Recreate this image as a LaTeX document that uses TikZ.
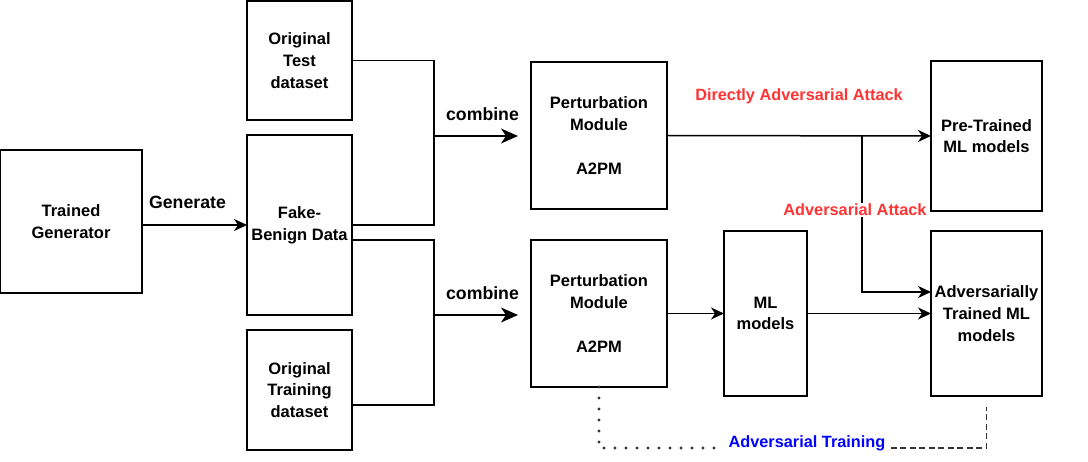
\documentclass[tikz,border=0pt]{standalone}
\usepackage{fontspec}
\setmainfont{Liberation Sans}
\usetikzlibrary{arrows.meta,positioning}
\definecolor{attackred}{HTML}{FF3333}
\definecolor{trainblue}{HTML}{0000FF}
\definecolor{dotgray}{HTML}{333333}
\tikzset{
  block/.style={draw=black,line width=1.5pt,inner sep=0pt,outer sep=0pt,align=center,
    font=\bfseries\fontsize{16.5}{21.7}\selectfont,fill=white},
  flow/.style={-{Stealth[length=13pt,width=12pt,inset=4pt]},line width=1.5pt,draw=black},
  bigflow/.style={-{Stealth[length=17pt,width=15pt,inset=5pt]},line width=1.5pt,draw=black},
  merge/.style={line width=1.5pt,draw=black},
  edgelbl/.style={font=\bfseries\fontsize{17.7}{21}\selectfont,inner sep=0pt},
  redlbl/.style={font=\bfseries\fontsize{16.3}{20}\selectfont,text=attackred},
  bluelbl/.style={font=\bfseries\fontsize{16.3}{20}\selectfont,text=trainblue,inner xsep=5pt,inner ysep=0pt},
  dotline/.style={draw=dotgray,line width=3.4pt,line cap=round,dash pattern=on 0pt off 11pt},
  dashline/.style={draw=dotgray,line width=1.2pt,dash pattern=on 6pt off 3.5pt}
}

\begin{document}
\begin{tikzpicture}[x=1pt,y=-1pt]
  \useasboundingbox (0,0) rectangle (1088,462);
  \node[block,minimum width=142pt,minimum height=143pt] (gen) at (71,221.5) {Trained\\Generator};
  \node[block,minimum width=105pt,minimum height=180pt] (fake) at (299.5,225) {Fake-\\Benign Data};
  \node[block,minimum width=105pt,minimum height=119pt,above=15pt of fake] (test) {Original\\Test\\dataset};
  \node[block,minimum width=105pt,minimum height=120pt,below=15pt of fake] (train) {Original\\Training\\dataset};
  \node[block,minimum width=136pt,minimum height=147pt] (pert1) at (599,135.5) {Perturbation\\Module\\[21.7pt]A2PM};
  \node[block,minimum width=136pt,minimum height=147pt,below=31pt of pert1] (pert2) {Perturbation\\Module\\[21.7pt]A2PM};
  \node[block,minimum width=83pt,minimum height=165pt,right=57pt of pert2] (ml) {ML\\models};
  \node[block,minimum width=111pt,minimum height=165pt,right=124pt of ml] (advtrained) {Adversarially\\Trained ML\\models};
  \node[block,minimum width=111pt,minimum height=150pt,above=20pt of advtrained] (pretrained) {Pre-Trained\\ML models};
  \draw[flow] (gen.east |- fake) -- node[edgelbl,above=16pt,xshift=-7pt] {Generate} (fake.west);
  \coordinate (join1) at (434,136);
  \coordinate (join2) at (434,315);
  \draw[merge] (test.east) -| (join1) |- (fake.east);
  \draw[merge] ([yshift=-15pt]fake.east) -| (join2) |- ([yshift=-15pt]train.east);
  \draw[bigflow,shorten >=13pt] (join1) -- node[edgelbl,above=15pt] {combine} (join1 -| pert1.west);
  \draw[bigflow,shorten >=13pt] (join2) -- node[edgelbl,above=15pt] {combine} (join2 -| pert2.west);
  \draw[flow] (pert1.east) -- node[redlbl,above=28pt] {Directly Adversarial Attack} (pretrained.west);
  \coordinate (split) at (862,136);
  \draw[flow] (split) |- node[redlbl,pos=0.237,xshift=-7pt,fill=white,inner sep=1pt] {Adversarial Attack} ([yshift=21.5pt]advtrained.west);
  \draw[flow] (pert2) -- (ml);
  \draw[flow] (ml) -- (advtrained);
  \node[bluelbl,anchor=base] (trainlbl) at (807,448) {Adversarial Training};
  \coordinate (trainend) at ([yshift=-11pt]advtrained.south);
  \draw[dotline] (pert2.south) |- (trainlbl.base west);
  \draw[dashline] (trainlbl.base east) -| (trainend);
\end{tikzpicture}
\end{document}
